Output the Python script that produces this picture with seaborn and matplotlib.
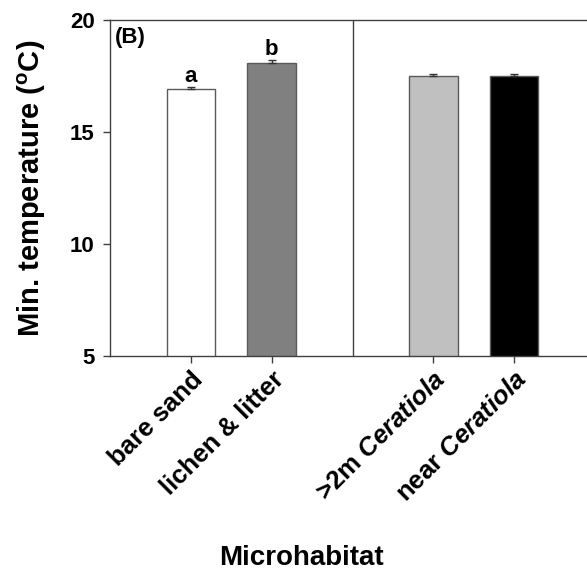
import matplotlib
matplotlib.use("Agg")
import matplotlib.pyplot as plt
import seaborn as sns
import pandas as pd

# Microhabitat minimum temperatures (means and standard errors)
categories = ["bare sand", "lichen & litter", ">2m Ceratiola", "near Ceratiola"]
tick_labels = ["bare sand", "lichen & litter",
               r">2m $\mathit{Ceratiola}$", r"near $\mathit{Ceratiola}$"]
positions = [0, 1, 3, 4]
means = [16.9, 18.1, 17.5, 17.5]
errors = [0.1, 0.1, 0.1, 0.1]
letters = ["a", "b", "", ""]
colors = ["#ffffff", "#808080", "#c0c0c0", "#000000"]

sns.set_style("ticks")
plt.rcParams["font.family"] = ["Liberation Sans", "DejaVu Sans"]
plt.rcParams["text.color"] = "black"
plt.rcParams["axes.labelcolor"] = "black"
plt.rcParams["xtick.labelcolor"] = "black"
plt.rcParams["ytick.labelcolor"] = "black"
plt.rcParams["mathtext.fontset"] = "custom"
plt.rcParams["mathtext.it"] = "Liberation Sans:italic:bold"
plt.rcParams["mathtext.rm"] = "Liberation Sans:bold"

df = pd.DataFrame({"pos": positions, "temp": means, "habitat": categories})

fig = plt.figure(figsize=(5.87, 5.77), dpi=100)
ax = fig.add_axes([0.1874, 0.383, 0.8194, 0.5823])

sns.barplot(data=df, x="pos", y="temp", hue="habitat", palette=colors,
            native_scale=True, width=0.6, errorbar=None, legend=False,
            edgecolor="#5a5a5a", linewidth=1.0, ax=ax, zorder=2)
ax.errorbar(positions, means, yerr=[[0] * len(errors), errors], fmt="none",
            ecolor="#333333", elinewidth=1, capsize=3, capthick=1, zorder=3)

for p, m, e, t in zip(positions, means, errors, letters):
    if t:
        ax.annotate(t, (p, m + e), xytext=(0, 0), textcoords="offset points",
                    ha="center", va="bottom", fontsize=16, fontweight="bold")

ax.axvline(2, color="#404040", lw=1, zorder=1)
ax.text(0.01, 0.98, "(B)", transform=ax.transAxes, ha="left", va="top",
        fontsize=16, fontweight="bold")

ax.set_xlim(-1, 4.95)
ax.set_ylim(5, 20)
ax.set_yticks([5, 10, 15, 20])
ax.set_xticks(positions)
ax.set_xticklabels(tick_labels, rotation=45, ha="right", rotation_mode="anchor",
                   fontsize=18.5, fontweight="bold")
for lbl in ax.get_yticklabels():
    lbl.set_fontweight("bold")
    lbl.set_fontsize(16)
ax.tick_params(axis="both", direction="out", length=5, width=1, color="#404040")
ax.tick_params(axis="y", pad=6)
ax.tick_params(axis="x", pad=3)

for side in ["left", "bottom", "top"]:
    ax.spines[side].set_visible(True)
    ax.spines[side].set_color("#404040")
    ax.spines[side].set_linewidth(1)
ax.spines["right"].set_visible(False)

ax.set_ylabel(r"Min. temperature ($^{\mathrm{o}}$C)", fontsize=21, fontweight="bold")
ax.yaxis.set_label_coords(-0.128, 0.5)
ax.set_xlabel("Microhabitat", fontsize=20, fontweight="bold")
ax.xaxis.set_label_coords(0.397, -0.562)

fig.savefig("out.png", dpi=100)
